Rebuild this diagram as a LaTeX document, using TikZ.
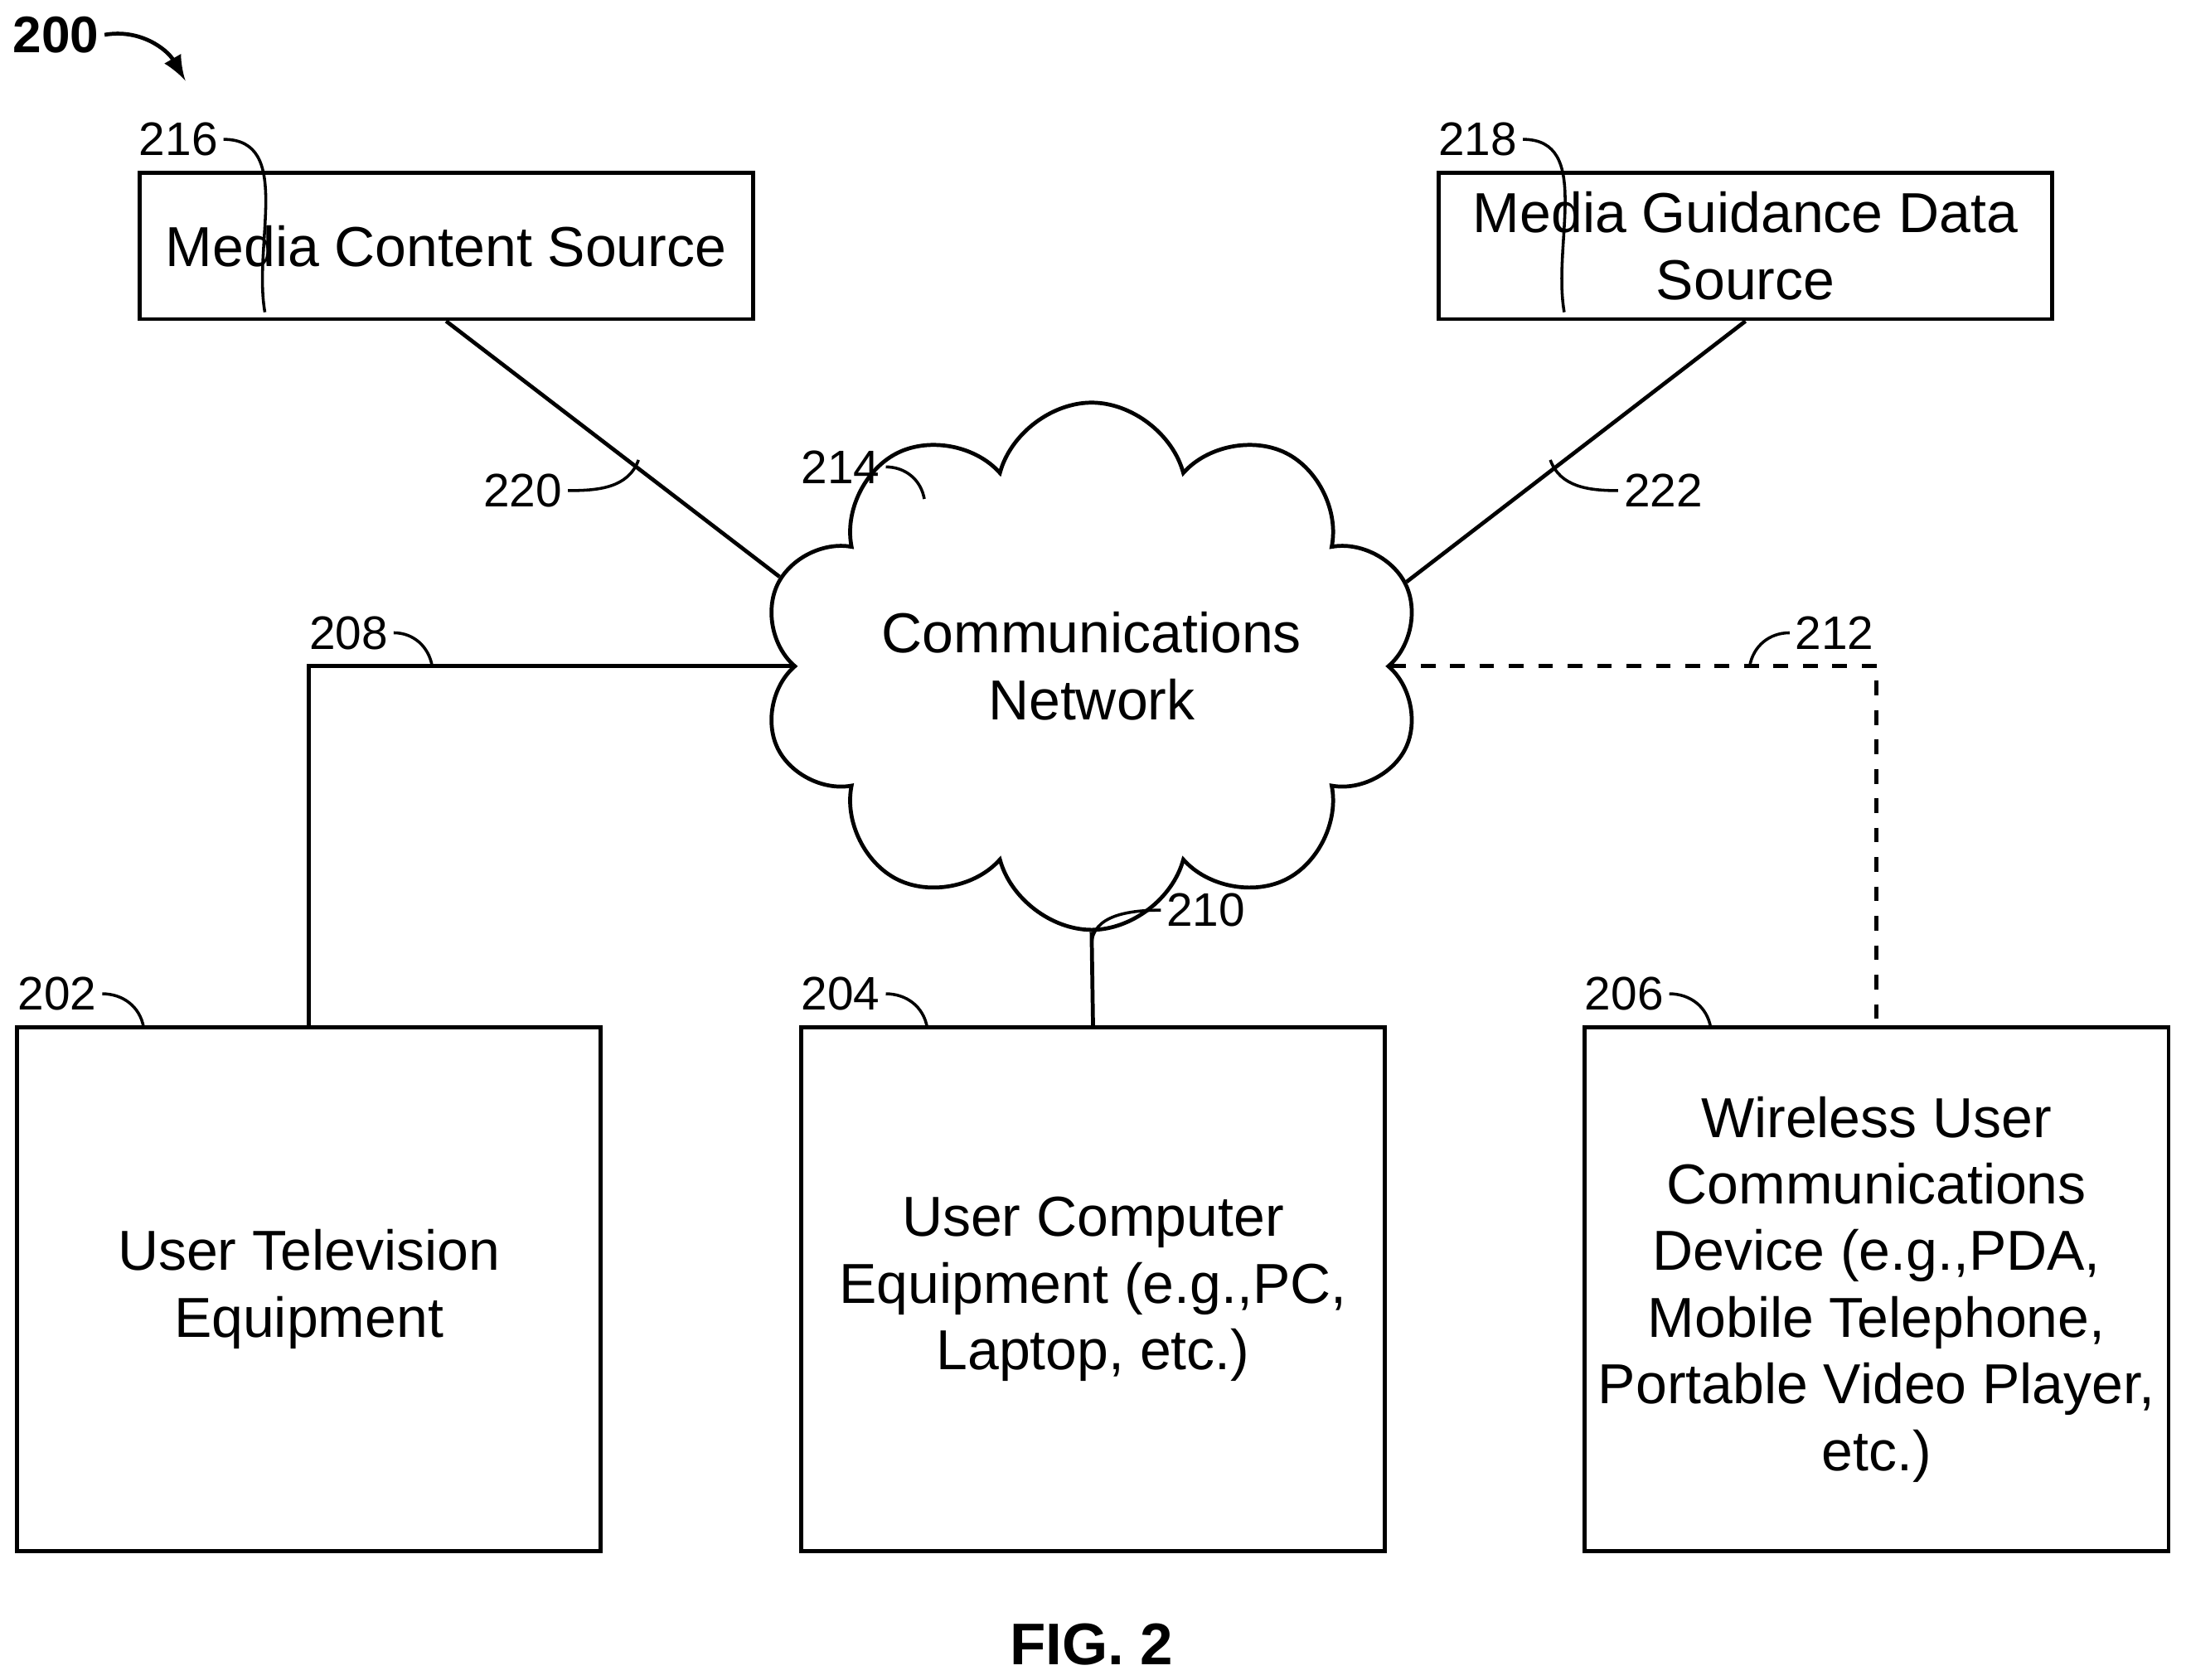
\documentclass[tikz,border=0pt]{standalone}
\usepackage{fontspec}
\setmainfont{Liberation Sans}
\usetikzlibrary{shapes.symbols}
\begin{document}
\begin{tikzpicture}[
    box/.style={draw, thick, inner sep=0pt, align=center, font=\fontsize{11.5}{13.6}\selectfont},
    ref/.style={font=\fontsize{9.6}{11}\selectfont, inner sep=1pt},
    lead/.style={semithick}]
    \useasboundingbox (0,0) rectangle (15.68,12.05);
    % --- Fuentes superiores ---
    \node[box, minimum width=4.40cm, minimum height=1.05cm] (mcs) at (3.20,10.285) {Media Content Source};
    \node[box, minimum width=4.40cm, minimum height=1.05cm] (mgd) at (12.52,10.285) {Media Guidance Data\\Source};
    % --- Red de comunicaciones ---
    \node[draw, thick, cloud, cloud puffs=10, aspect=1.46, inner sep=0pt, minimum width=4.17cm, minimum height=2.85cm,
          align=center, font=\fontsize{11.5}{13.6}\selectfont] (net) at (7.83,7.27) {Communications\\Network};
    % --- Equipos de usuario ---
    \node[box, minimum width=4.19cm, minimum height=3.76cm] (tv) at (2.215,2.80) {User Television\\Equipment};
    \node[box, minimum width=4.19cm, minimum height=3.76cm] (pc) at (7.84,2.80) {User Computer\\Equipment (e.g.,PC,\\Laptop, etc.)};
    \node[box, minimum width=4.19cm, minimum height=3.76cm] (wl) at (13.46,2.80) {Wireless User\\Communications\\Device (e.g.,PDA,\\Mobile Telephone,\\Portable Video Player,\\etc.)};
    % --- Enlaces ---
    \draw[thick] (mcs.south) -- (net.164);
    \draw[thick] (mgd.south) -- (net.15);
    \draw[thick] (net.west) -| (tv.north);
    \draw[thick] (net.south) -- (pc.north);
    \draw[thick, dashed] (net.east) -| (wl.north);
    % --- Referencias numericas ---
    \node[ref] (l216) at (1.28,11.05) {216};
    \node[ref] (l218) at (10.60,11.05) {218};
    \node[ref] (l214) at (6.03,8.70) {214};
    \node[ref] (l220) at (3.75,8.53) {220};
    \node[ref] (l222) at (11.93,8.53) {222};
    \node[ref] (l208) at (2.50,7.51) {208};
    \node[ref] (l212) at (13.16,7.51) {212};
    \node[ref] (l210) at (8.65,5.52) {210};
    \node[ref] (l202) at (0.41,4.92) {202};
    \node[ref] (l204) at (6.03,4.92) {204};
    \node[ref] (l206) at (11.65,4.92) {206};
    \draw[lead] (l216.east) to[out=0,in=100] (1.90,9.81);
    \draw[lead] (l218.east) to[out=0,in=100] (11.22,9.81);
    \draw[lead] (l214.east) to[out=0,in=100] (6.63,8.47);
    \draw[lead] (l220.east) to[out=0,in=-110] (4.58,8.75);
    \draw[lead] (l222.west) to[out=180,in=-70] (11.12,8.75);
    \draw[lead] (l208.east) to[out=0,in=100] (3.10,7.27);
    \draw[lead] (l212.west) to[out=180,in=80] (12.55,7.27);
    \draw[lead] (l210.west) to[out=180,in=90] (7.83,5.27);
    \draw[lead] (l202.east) to[out=0,in=100] (1.03,4.68);
    \draw[lead] (l204.east) to[out=0,in=100] (6.65,4.68);
    \draw[lead] (l206.east) to[out=0,in=100] (12.27,4.68);
    % --- Numero de figura ---
    \node[font=\bfseries\fontsize{10.5}{12}\selectfont, inner sep=1pt] (l200) at (0.40,11.80) {200};
    \draw[-latex, thick] (l200.east) to[out=10,in=120] (1.33,11.47);
    \node[font=\bfseries\fontsize{12}{14}\selectfont] (fig) at (7.83,0.25) {FIG. 2};
\end{tikzpicture}
\end{document}
